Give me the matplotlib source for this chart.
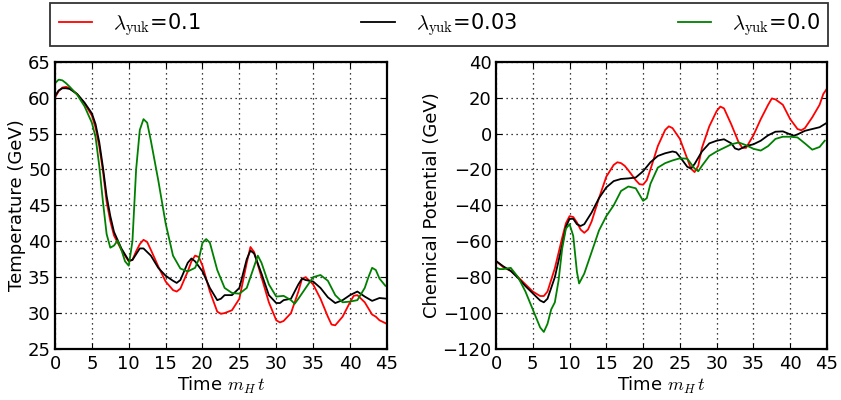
import matplotlib
matplotlib.use("Agg")
import matplotlib.pyplot as plt

plt.rcParams['mathtext.fontset'] = 'cm'
plt.rcParams['font.family'] = 'DejaVu Sans'

# temperature curves (time, GeV)
t_red_T = [0, 0.5, 1, 1.5, 2, 3, 4, 5, 5.5, 6, 6.5, 7, 7.5, 8, 8.5, 9, 10, 10.5, 11, 11.5, 12, 12.5, 13, 14, 15, 16, 16.5, 17, 18, 18.5, 19, 19.5, 20, 21, 22, 22.5, 23, 24, 25, 26, 26.5, 27, 28, 29, 30, 30.5, 31, 32, 33, 33.5, 34, 35, 36, 37, 37.5, 38, 39, 40, 40.5, 41, 42, 43, 43.5, 44, 45]
red_T = [60, 60.9, 61.4, 61.5, 61.3, 60.5, 59.2, 57.5, 55.8, 53.2, 49.8, 45.5, 42.8, 40.8, 39.8, 38.8, 37.2, 37.4, 38.6, 39.6, 40.2, 39.9, 38.8, 36.5, 34.4, 33.2, 33.0, 33.4, 35.8, 37.2, 38.0, 37.8, 36.6, 33.0, 30.2, 29.9, 30.0, 30.4, 32.0, 37.0, 39.2, 38.5, 35.0, 31.5, 29.0, 28.7, 28.9, 30.0, 33.0, 34.8, 35.0, 34.0, 32.0, 29.5, 28.4, 28.3, 29.5, 31.5, 32.4, 32.5, 31.5, 29.8, 29.5, 29.0, 28.5]

t_blk_T = [0, 0.5, 1, 1.5, 2, 3, 4, 5, 5.5, 6, 6.5, 7, 7.5, 8, 9, 10, 10.5, 11, 11.5, 12, 13, 14, 15, 16, 16.5, 17, 18, 18.5, 19, 20, 21, 22, 22.5, 23, 24, 25, 26, 26.5, 27, 28, 29, 30, 30.5, 31, 32, 33, 33.5, 34, 35, 36, 37, 38, 39, 40, 41, 42, 43, 44, 45]
blk_T = [60.2, 61.0, 61.3, 61.3, 61.2, 60.5, 59.3, 57.8, 56.3, 53.8, 50.3, 46.3, 43.5, 41.3, 39.0, 37.3, 37.4, 38.2, 39.0, 39.0, 38.0, 36.3, 35.2, 34.5, 34.2, 34.6, 37.0, 37.6, 37.2, 35.8, 33.5, 31.8, 32.0, 32.5, 32.5, 33.5, 37.5, 38.7, 38.3, 35.5, 32.5, 31.4, 31.4, 31.8, 32.0, 34.0, 34.8, 34.6, 34.4, 33.5, 32.2, 31.4, 31.8, 32.5, 33.0, 32.3, 31.7, 32.1, 32.0]

t_grn_T = [0, 0.5, 1, 1.5, 2, 3, 4, 5, 5.5, 6, 6.5, 7, 7.5, 8, 8.5, 9, 9.5, 10, 10.5, 11, 11.5, 12, 12.5, 13, 14, 15, 16, 17, 18, 19, 19.5, 20, 20.5, 21, 22, 23, 24, 25, 26, 27, 27.5, 28, 29, 30, 31, 32, 32.5, 33, 34, 35, 36, 37, 38, 39, 40, 41, 42, 42.5, 43, 43.5, 44, 44.8]
grn_T = [62.0, 62.5, 62.4, 62.0, 61.5, 60.4, 58.8, 56.5, 54.5, 50.5, 45.5, 41.0, 39.1, 39.4, 40.1, 38.8, 37.2, 36.6, 40.0, 50.0, 55.5, 57.0, 56.5, 54.0, 48.5, 42.5, 38.0, 36.2, 35.8, 36.3, 37.5, 39.8, 40.3, 39.8, 36.0, 33.5, 32.8, 32.7, 33.5, 36.5, 38.0, 37.0, 34.0, 32.3, 32.4, 31.8, 31.3, 32.0, 33.5, 35.0, 35.3, 34.5, 32.5, 31.5, 31.6, 31.8, 33.5, 35.0, 36.3, 36.0, 34.8, 33.8]

# chemical potential curves (time, GeV)
t_red_mu = [0, 1, 2, 3, 4, 5, 6, 6.5, 7, 8, 9, 9.5, 10, 10.5, 11, 11.5, 12, 12.5, 13, 14, 15, 16, 16.5, 17, 17.5, 18, 19, 19.5, 20, 20.5, 21, 22, 23, 23.5, 24, 25, 26, 26.5, 27, 27.5, 28, 29, 30, 30.5, 31, 32, 33, 33.5, 34, 35, 36, 37, 37.5, 38, 39, 40, 41, 41.5, 42, 43, 44, 44.5, 45]
red_mu = [-71, -74.5, -76.5, -80, -84, -88, -90.5, -90.5, -88, -75, -58, -50, -46, -46.5, -49.5, -53.5, -55.3, -53.5, -49, -36, -24, -17.5, -16, -16.5, -18, -20.5, -26, -28.2, -28.5, -26, -20, -7, 2, 4, 3, -3, -14, -19.5, -21.5, -18, -8, 4, 12.5, 15, 14, 5, -5, -8, -8, -1, 8, 16, 19.5, 19, 16, 8, 2.5, 1.8, 3, 9, 16, 22, 25]

t_blk_mu = [0, 1, 2, 3, 4, 5, 6, 6.5, 7, 8, 9, 9.5, 10, 10.5, 11, 11.5, 12, 13, 14, 15, 16, 17, 18, 19, 20, 21, 22, 23, 24, 24.5, 25, 26, 26.5, 27, 28, 29, 30, 31, 32, 32.5, 33, 34, 35, 36, 37, 38, 39, 40, 40.5, 41, 42, 43, 44, 45]
blk_mu = [-71, -74, -76.5, -80.5, -85, -89, -93, -94, -92, -80, -62, -52, -47.5, -47.5, -50.5, -51.5, -50.5, -44, -36, -30, -26.5, -25.3, -25, -24.5, -21, -16, -12.5, -11, -10, -10.5, -13, -18.5, -19.5, -17, -10, -5.5, -4, -3.2, -5.5, -8.3, -9, -7, -6, -4, -1, 1, 1.2, -0.5, -1.2, -0.5, 1.5, 2.5, 3.5, 6]

t_grn_mu = [0, 0.5, 1, 2, 3, 4, 5, 6, 6.5, 7, 7.5, 8, 8.5, 9, 9.5, 10, 10.5, 11, 11.3, 12, 13, 14, 15, 16, 17, 18, 19, 19.5, 20, 20.5, 21, 22, 23, 24, 25, 26, 27, 27.5, 28, 29, 30, 31, 32, 33, 34, 35, 36, 37, 38, 39, 40, 41, 42, 43, 44, 44.7]
grn_mu = [-74.7, -75.5, -75.5, -74.8, -80, -88, -98, -108, -110.5, -106, -98, -94, -82, -64, -53, -50.5, -57, -77, -83.5, -78, -66, -54, -46, -40, -32, -29.5, -30.5, -34, -37.5, -36, -28, -19, -16.5, -15, -13.8, -14, -19.5, -21, -18, -12.5, -10, -8, -6, -5, -6.5, -8.5, -9.5, -7, -3, -1.8, -1.8, -2.2, -5.5, -9, -7.5, -4]

labels = [r'$\lambda_{\rm yuk}$=0.1', r'$\lambda_{\rm yuk}$=0.03', r'$\lambda_{\rm yuk}$=0.0']
colors = ['#ff0000', 'k', '#008000']

fig = plt.figure(figsize=(8.41, 4.0), dpi=100)
ax1 = fig.add_axes([0.0654, 0.1275, 0.3946, 0.7183])
ax2 = fig.add_axes([0.5898, 0.1275, 0.3935, 0.7183])

lines = []
for t, y, c, lab in zip([t_red_T, t_blk_T, t_grn_T], [red_T, blk_T, grn_T], colors, labels):
    l, = ax1.plot(t, y, color=c, lw=1.3, label=lab)
    lines.append(l)
for t, y, c in zip([t_red_mu, t_blk_mu, t_grn_mu], [red_mu, blk_mu, grn_mu], colors):
    ax2.plot(t, y, color=c, lw=1.3)

ax1.set_xlim(0, 45)
ax1.set_ylim(25, 65)
ax1.set_yticks(range(25, 66, 5))
ax1.set_ylabel('Temperature (GeV)', fontsize=13, labelpad=1)
ax2.set_xlim(0, 45)
ax2.set_ylim(-120, 40)
ax2.set_yticks(range(-120, 41, 20))
ax2.set_ylabel('Chemical Potential (GeV)', fontsize=13, labelpad=1)

for ax in (ax1, ax2):
    ax.set_xticks(range(0, 46, 5))
    ax.set_xlabel('Time $m_H\\,t$', fontsize=13, labelpad=2)
    ax.grid(True, color='k', linestyle=(0, (1, 3)), linewidth=0.9)
    ax.tick_params(direction='in', top=True, right=True, labelsize=13, length=4)
    ax.tick_params(axis='x', pad=4)
    ax.tick_params(axis='y', pad=3)
    for s in ax.spines.values():
        s.set_linewidth(1.6)

fig.legend(handles=lines, labels=labels, loc='lower left', ncol=3, mode='expand',
           bbox_to_anchor=(0.06, 0.885, 0.925, 0.105), fontsize=15, handlelength=1.6,
           handletextpad=1.0, frameon=True, fancybox=False, edgecolor='k', borderaxespad=0.0)
leg = fig.legends[0]
leg.get_frame().set_linewidth(1.3)

fig.savefig('out.png', dpi=100)
